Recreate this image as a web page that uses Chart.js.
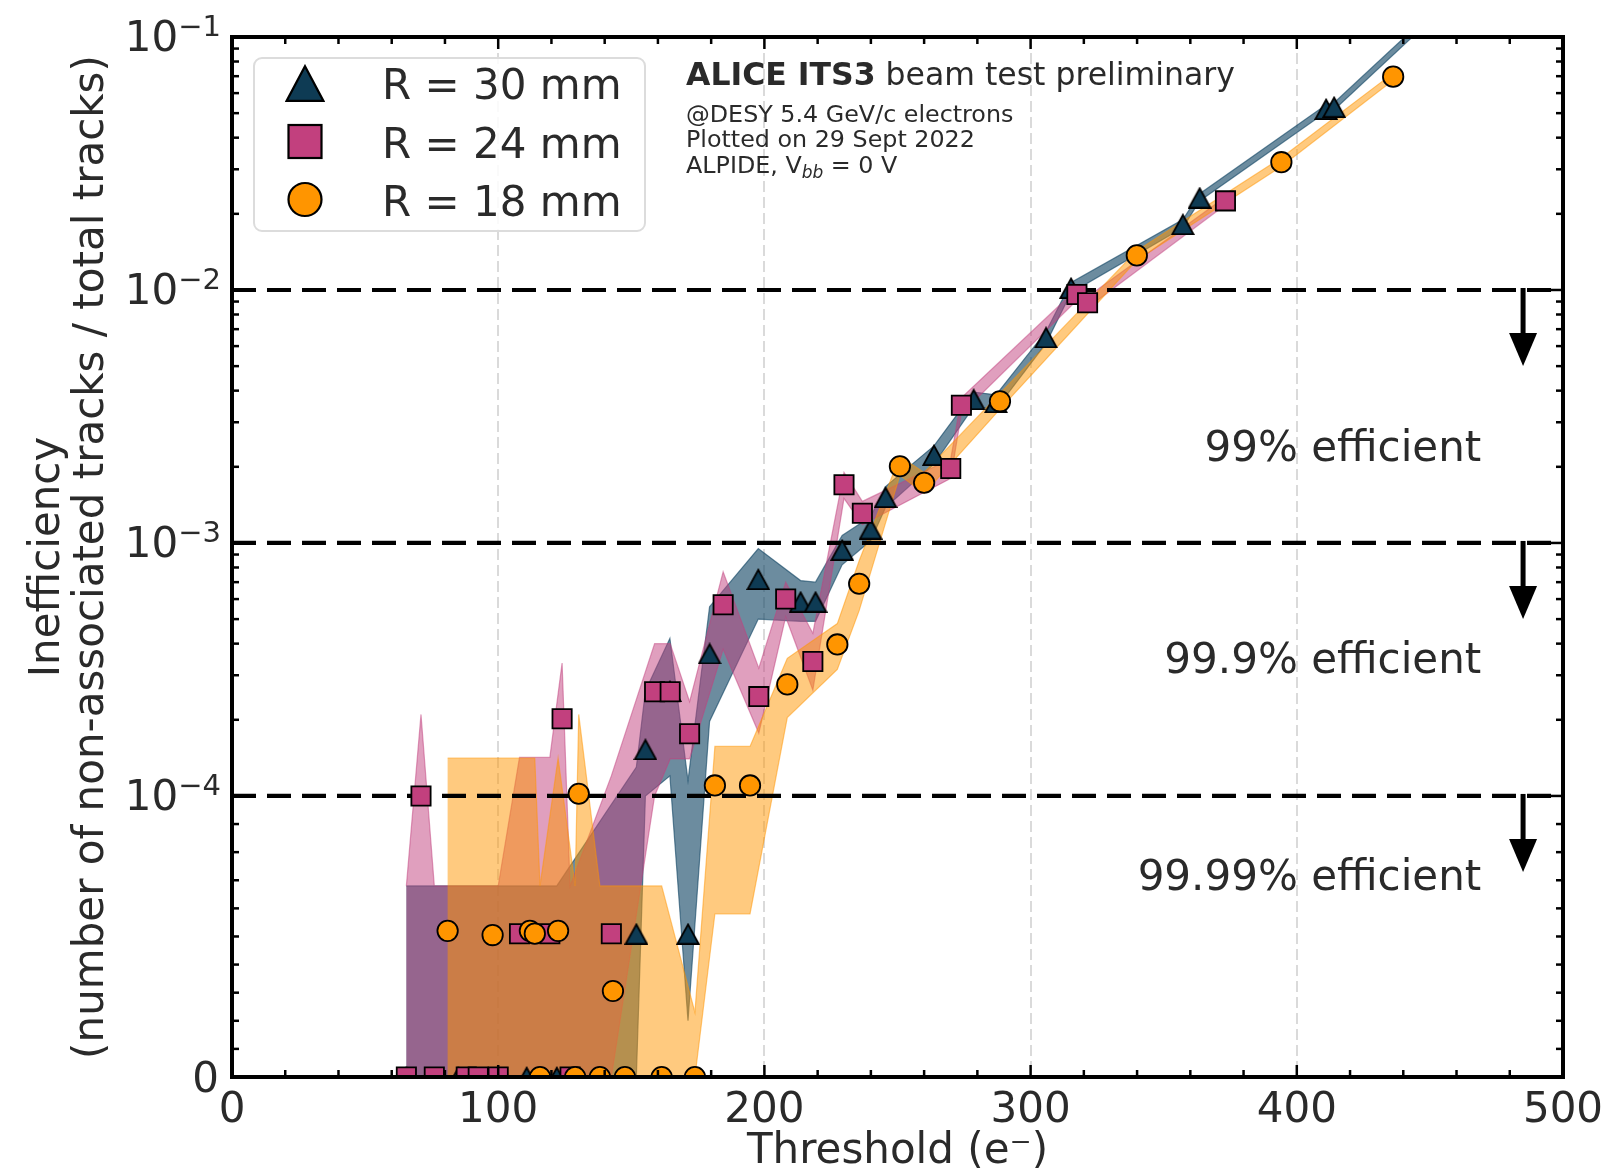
<!DOCTYPE html>
<html>
<head>
<meta charset="utf-8">
<script src="https://cdn.jsdelivr.net/npm/chart.js@4.4.1/dist/chart.umd.min.js"></script>
<style>
  html, body { margin: 0; padding: 0; background: #fff; }
  #wrap { width: 1604px; height: 1174px; position: relative; }
</style>
</head>
<body>
<div id="wrap"><canvas id="chart"></canvas></div>
<script>
// ---- data ----
// R = 30 mm
const r30Threshold = [65.5, 85, 110.7, 122, 151.9, 155.3, 164.5, 171.3, 179.4, 197.7, 213.6, 219.2, 229.2, 239.9, 245.5, 263.7, 278.6, 287, 305.8, 315.2, 357.2, 363.5, 411, 414, 446];
const r30Ineff     = [0, 0, 0, 0, 5.1e-5, 1.53e-4, 2.6e-4, 5.1e-5, 3.66e-4, 7.2e-4, 5.86e-4, 5.86e-4, 9.4e-4, 1.14e-3, 1.52e-3, 2.23e-3, 3.7e-3, 3.6e-3, 6.5e-3, 1.02e-2, 1.82e-2, 2.32e-2, 5.2e-2, 5.3e-2, 0.109];
const r30Low       = [0, 0, 0, 0, 0, 1.0e-4, 1.2e-4, 2.0e-5, 1.97e-4, 5.0e-4, 4.9e-4, 4.9e-4, 8.2e-4, 1.02e-3, 1.38e-3, 2.05e-3, 3.45e-3, 3.38e-3, 6.15e-3, 9.75e-3, 1.76e-2, 2.25e-2, 5.05e-2, 5.15e-2, 0.106];
const r30High      = [6.8e-5, 6.8e-5, 6.8e-5, 6.8e-5, 1.3e-4, 2.6e-4, 4.2e-4, 1.15e-4, 5.6e-4, 9.5e-4, 7.1e-4, 7.0e-4, 1.07e-3, 1.27e-3, 1.67e-3, 2.42e-3, 3.95e-3, 3.85e-3, 6.85e-3, 1.07e-2, 1.9e-2, 2.4e-2, 5.4e-2, 5.5e-2, 0.113];

// R = 24 mm
const r24Threshold = [65.5, 71, 76, 88, 92.5, 100, 108, 119.4, 124, 127, 142.5, 158.75, 164.6, 171.9, 184.5, 197.9, 208, 218.2, 229.9, 236.8, 270, 274, 317.4, 321.4, 373.2];
const r24Ineff     = [0, 1.0e-4, 0, 0, 0, 0, 5.1e-5, 5.1e-5, 2.02e-4, 0, 5.1e-5, 2.58e-4, 2.58e-4, 1.76e-4, 5.7e-4, 2.47e-4, 6.0e-4, 3.4e-4, 1.7e-3, 1.31e-3, 1.97e-3, 3.5e-3, 9.6e-3, 8.9e-3, 2.25e-2];
const r24Low       = [0, 0, 0, 0, 0, 0, 0, 0, 0, 0, 0, 1.0e-4, 1.4e-4, 1.4e-4, 3.8e-4, 1.77e-4, 5.1e-4, 2.62e-4, 1.5e-3, 1.18e-3, 1.8e-3, 3.25e-3, 9.1e-3, 8.5e-3, 2.17e-2];
const r24High      = [6.8e-5, 2.1e-4, 6.8e-5, 6.8e-5, 6.8e-5, 6.8e-5, 1.42e-4, 1.42e-4, 3.35e-4, 6.8e-5, 1.2e-4, 4.0e-4, 4.0e-4, 2.36e-4, 7.7e-4, 3.2e-4, 7.0e-4, 4.4e-4, 1.9e-3, 1.46e-3, 2.15e-3, 3.75e-3, 1.01e-2, 9.4e-3, 2.33e-2];

// R = 18 mm
const r18Threshold = [81, 97.9, 111.9, 113.75, 115.7, 122.5, 128.9, 130.25, 138.2, 143.1, 147.6, 161.4, 173.9, 181.4, 194.6, 208.6, 227.4, 235.6, 250.9, 260, 288.5, 339.9, 394.2, 436.2];
const r18Ineff     = [5.2e-5, 5.05e-5, 5.2e-5, 5.1e-5, 0, 5.2e-5, 0, 1.02e-4, 0, 3.06e-5, 0, 0, 0, 1.1e-4, 1.1e-4, 2.76e-4, 3.97e-4, 6.9e-4, 2.01e-3, 1.73e-3, 3.63e-3, 1.37e-2, 3.2e-2, 6.97e-2];
const r18Low       = [0, 0, 0, 0, 0, 0, 0, 0, 0, 0, 0, 0, 0, 5.8e-5, 5.8e-5, 2.04e-4, 3.16e-4, 5.4e-4, 1.85e-3, 1.57e-3, 3.38e-3, 1.31e-2, 3.08e-2, 6.75e-2];
const r18High      = [1.41e-4, 1.41e-4, 1.41e-4, 1.41e-4, 6.8e-5, 1.41e-4, 6.8e-5, 2.1e-4, 6.8e-5, 6.8e-5, 6.8e-5, 6.8e-5, 2.3e-5, 1.57e-4, 1.57e-4, 3.5e-4, 4.8e-4, 8.5e-4, 2.2e-3, 1.9e-3, 3.9e-3, 1.43e-2, 3.33e-2, 7.2e-2];

const seriesLabels = ['R = 30 mm', 'R = 24 mm', 'R = 18 mm'];

// axes / annotations
const xMajorTicks = [0, 100, 200, 300, 400, 500];
const yMajorTicks = [0, 1e-4, 1e-3, 1e-2, 1e-1];
const yTickExp = ['', '\u22124', '\u22123', '\u22122', '\u22121'];
const effLevels = [1e-2, 1e-3, 1e-4];
const effLabels = ['99% efficient', '99.9% efficient', '99.99% efficient'];
const effLabelY = [2.11e-3, 3.06e-4, 6.65e-5];
const effLabelX = 469.3;
const arrowX = 485;

const FONT = "'DejaVu Sans', 'Noto Sans', sans-serif";
const TXT = '#2a2a2a';
const colR30 = '#0e3b54', colR24 = '#c2407e', colR18 = '#ff9500';
const bandR30 = 'rgba(18,70,100,0.62)', bandR24 = 'rgba(194,64,126,0.5)', bandR18 = 'rgba(255,149,0,0.5)';

Chart.defaults.font.family = FONT;
Chart.defaults.color = TXT;

// symlog-style y scale: linear from 0 to 1e-4, log above
class SymLogScale extends Chart.Scale {
  determineDataLimits() {
    this.min = this.options.min;
    this.max = this.options.max;
  }
  buildTicks() {
    return yMajorTicks.map(v => ({ value: v }));
  }
  _tf(v) {
    const t = 1e-4, ls = 1.111;
    return v <= t ? v / t * ls : ls + Math.log10(v / t);
  }
  configure() {
    super.configure();
    this._startValue = this._tf(this.min);
    this._valueRange = this._tf(this.max) - this._startValue;
  }
  getLabelForValue(v) { return String(v); }
  getPixelForValue(v) {
    return this.getPixelForDecimal((this._tf(v) - this._startValue) / this._valueRange);
  }
  getValueForPixel(p) {
    const t = 1e-4, ls = 1.111;
    const d = this._startValue + this.getDecimalForPixel(p) * this._valueRange;
    return d <= ls ? d / ls * t : t * Math.pow(10, d - ls);
  }
  getBasePixel() { return this.getPixelForValue(0); }
}
SymLogScale.id = 'symlog';
SymLogScale.defaults = {};
Chart.register(SymLogScale);

function makeTriangle(w, h, lw, fill) {
  const c = document.createElement('canvas');
  c.width = Math.ceil(w + lw);
  c.height = Math.ceil(h + lw);
  const g = c.getContext('2d');
  g.beginPath();
  g.moveTo(c.width / 2, lw);
  g.lineTo(c.width - lw / 2 - 0.5, c.height - lw / 2);
  g.lineTo(lw / 2 + 0.5, c.height - lw / 2);
  g.closePath();
  g.fillStyle = fill;
  g.fill();
  g.lineWidth = lw;
  g.strokeStyle = '#000';
  g.stroke();
  return c;
}
const triPoint = makeTriangle(22, 19.5, 1.8, colR30);
const triLegend = makeTriangle(37, 35, 2.2, colR30);

function pts(xs, ys) { return xs.map((x, i) => ({ x: x, y: ys[i] })); }

// error band: upper edge forward, lower edge back, filled as one shape
function bandSet(xs, lo, hi, color, order) {
  return {
    type: 'line', data: pts(xs, hi).concat(pts(xs, lo).reverse()),
    borderColor: color, backgroundColor: color, borderWidth: 1.2,
    pointRadius: 0, fill: 'shape', tension: 0, order: order
  };
}

const datasets = [
  bandSet(r30Threshold, r30Low, r30High, bandR30, 8),
  bandSet(r24Threshold, r24Low, r24High, bandR24, 7),
  bandSet(r18Threshold, r18Low, r18High, bandR18, 6),
  ...effLevels.map(lvl => ({
    type: 'line', data: [{ x: 0, y: lvl }, { x: 500, y: lvl }], borderColor: '#000', borderWidth: 4.2,
    borderDash: [24, 11], pointRadius: 0, fill: false, order: 4
  })),
  { type: 'line', showLine: false, data: pts(r30Threshold, r30Ineff), pointStyle: triPoint,
    pointRadius: 11, order: 2 },
  { type: 'line', showLine: false, data: pts(r24Threshold, r24Ineff), pointStyle: 'rect',
    pointRadius: 13.6, pointBackgroundColor: colR24, pointBorderColor: '#000', pointBorderWidth: 1.8, order: 1 },
  { type: 'line', showLine: false, data: pts(r18Threshold, r18Ineff), pointStyle: 'circle',
    pointRadius: 10.2, pointBackgroundColor: colR18, pointBorderColor: '#000', pointBorderWidth: 1.8, order: 0 }
];

function drawPow(ctx, exp, right, cy) {
  ctx.font = '42px ' + FONT;
  const wb = ctx.measureText('10').width;
  ctx.font = '29px ' + FONT;
  const we = ctx.measureText(exp).width;
  const left = right - wb - we;
  ctx.textAlign = 'left';
  ctx.textBaseline = 'alphabetic';
  ctx.font = '42px ' + FONT;
  ctx.fillText('10', left, cy + 14);
  ctx.font = '29px ' + FONT;
  ctx.fillText(exp, left + wb, cy - 1);
}

const decor = {
  id: 'decor',
  afterDraw(chart) {
    const { ctx, chartArea: a, scales: { x, y } } = chart;
    ctx.save();

    // arrows below each efficiency line
    const ax = x.getPixelForValue(arrowX);
    ctx.fillStyle = '#000';
    ctx.strokeStyle = '#000';
    effLevels.forEach(lvl => {
      const py = y.getPixelForValue(lvl);
      ctx.lineWidth = 5;
      ctx.beginPath();
      ctx.moveTo(ax, py - 2);
      ctx.lineTo(ax, py + 46);
      ctx.stroke();
      ctx.beginPath();
      ctx.moveTo(ax - 14, py + 43);
      ctx.lineTo(ax + 14, py + 43);
      ctx.lineTo(ax, py + 76);
      ctx.closePath();
      ctx.fill();
    });

    // efficiency labels
    ctx.fillStyle = TXT;
    ctx.font = '42px ' + FONT;
    ctx.textAlign = 'right';
    ctx.textBaseline = 'alphabetic';
    effLabels.forEach((s, i) => {
      ctx.fillText(s, x.getPixelForValue(effLabelX), y.getPixelForValue(effLabelY[i]));
    });

    // ticks on all four sides, pointing inwards
    ctx.strokeStyle = '#000';
    ctx.lineWidth = 2.5;
    const tick = (x0, y0, x1, y1) => { ctx.beginPath(); ctx.moveTo(x0, y0); ctx.lineTo(x1, y1); ctx.stroke(); };
    for (let v = 0; v <= 500; v += 20) {
      const px = x.getPixelForValue(v);
      const len = (v % 100 === 0) ? 12 : 7;
      tick(px, a.bottom, px, a.bottom - len);
      tick(px, a.top, px, a.top + len);
    }
    const yMinor = [];
    for (let k = 1; k <= 9; k++) yMinor.push(k * 1e-5);
    [-4, -3, -2].forEach(d => { for (let k = 2; k <= 9; k++) yMinor.push(k * Math.pow(10, d)); });
    yMinor.forEach(v => {
      const py = y.getPixelForValue(v);
      tick(a.left, py, a.left + 7, py);
      tick(a.right, py, a.right - 7, py);
    });
    yMajorTicks.forEach(v => {
      const py = y.getPixelForValue(v);
      tick(a.left, py, a.left + 12, py);
      tick(a.right, py, a.right - 12, py);
    });

    // frame
    ctx.lineWidth = 4;
    ctx.strokeRect(a.left, a.top, a.right - a.left, a.bottom - a.top);

    // y tick labels
    ctx.fillStyle = TXT;
    yMajorTicks.forEach((v, i) => {
      const py = y.getPixelForValue(v);
      if (v === 0) {
        ctx.font = '42px ' + FONT;
        ctx.textAlign = 'right';
        ctx.textBaseline = 'alphabetic';
        ctx.fillText('0', a.left - 13, py + 15);
      } else {
        drawPow(ctx, yTickExp[i], a.left - 11, py);
      }
    });

    // experiment annotation
    const tx = a.left + 454;
    ctx.textAlign = 'left';
    ctx.textBaseline = 'alphabetic';
    ctx.font = 'bold 31.5px ' + FONT;
    ctx.fillText('ALICE ITS3', tx, a.top + 48);
    const wb = ctx.measureText('ALICE ITS3').width;
    ctx.font = '31.5px ' + FONT;
    ctx.fillText(' beam test preliminary', tx + wb, a.top + 48);
    ctx.font = '23.8px ' + FONT;
    ctx.fillText('@DESY 5.4 GeV/c electrons', tx, a.top + 84.5);
    ctx.fillText('Plotted on 29 Sept 2022', tx, a.top + 110);
    const l4 = 'ALPIDE, V';
    ctx.fillText(l4, tx, a.top + 136);
    let cx = tx + ctx.measureText(l4).width;
    ctx.font = 'italic 17px ' + FONT;
    ctx.fillText('bb', cx, a.top + 141);
    cx += ctx.measureText('bb').width;
    ctx.font = '23.8px ' + FONT;
    ctx.fillText(' = 0 V', cx, a.top + 136);

    // legend
    const lx = a.left + 22, ly = a.top + 21, lw = 391, lh = 173;
    ctx.beginPath();
    ctx.roundRect(lx, ly, lw, lh, 8);
    ctx.fillStyle = 'rgba(255,255,255,0.85)';
    ctx.fill();
    ctx.strokeStyle = '#dcdcdc';
    ctx.lineWidth = 2;
    ctx.stroke();
    const rows = [a.top + 46, a.top + 104.5, a.top + 162.5];
    const mx = a.left + 73;
    ctx.drawImage(triLegend, mx - triLegend.width / 2, rows[0] - triLegend.height / 2);
    ctx.fillStyle = colR24;
    ctx.strokeStyle = '#000';
    ctx.lineWidth = 2.2;
    ctx.fillRect(mx - 16.5, rows[1] - 16.5, 33, 33);
    ctx.strokeRect(mx - 16.5, rows[1] - 16.5, 33, 33);
    ctx.beginPath();
    ctx.arc(mx, rows[2], 16.5, 0, Math.PI * 2);
    ctx.fillStyle = colR18;
    ctx.fill();
    ctx.stroke();
    ctx.fillStyle = TXT;
    ctx.font = '42px ' + FONT;
    ctx.textAlign = 'left';
    seriesLabels.forEach((s, i) => ctx.fillText(s, a.left + 150, rows[i] + 16));

    ctx.restore();
  }
};

new Chart(document.getElementById('chart'), {
  type: 'line',
  data: { datasets: datasets },
  options: {
    responsive: true,
    maintainAspectRatio: false,
    animation: false,
    devicePixelRatio: 1,
    layout: { padding: { top: 37, right: 41, left: 0, bottom: 0 } },
    plugins: { legend: { display: false }, tooltip: { enabled: false } },
    scales: {
      x: {
        type: 'linear', min: 0, max: 500,
        afterBuildTicks: s => { s.ticks = xMajorTicks.map(v => ({ value: v })); },
        ticks: { font: { size: 42 }, color: TXT, padding: 9, maxRotation: 0, autoSkip: false },
        grid: { color: '#dadada', lineWidth: 2, drawTicks: false },
        border: { display: false, dash: [11, 5] },
        title: { display: true, text: 'Threshold (e\u207B)', font: { size: 42, lineHeight: 1.05 },
                 color: TXT, padding: { top: 0, bottom: 0 } },
        afterFit: s => { s.height = 97; s.paddingLeft = 0; s.paddingRight = 0; }
      },
      y: {
        type: 'symlog', min: 0, max: 0.1, position: 'left',
        grid: { display: false },
        border: { display: false },
        ticks: { display: false },
        title: { display: true, text: ['Inefficiency', '(number of non-associated tracks / total tracks)'],
                 font: { size: 42, lineHeight: 1.05 }, color: TXT, padding: { top: 26, bottom: 0 } },
        afterFit: s => { s.width = 232; }
      }
    }
  },
  plugins: [decor]
});
</script>
</body>
</html>
